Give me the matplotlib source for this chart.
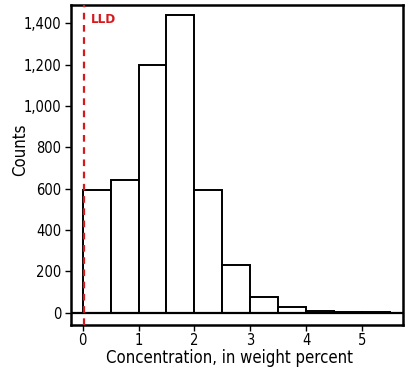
import numpy as np
import matplotlib.pyplot as plt

# Histogram bins (weight percent) and counts
bin_edges = [0, 0.5, 1, 1.5, 2, 2.5, 3, 3.5, 4, 4.5, 5, 5.5]
counts = [593, 642, 1198, 1440, 595, 231, 76, 27, 8, 3, 2]
lld = 0.02

x_ticks = [0, 1, 2, 3, 4, 5]
y_ticks = [0, 200, 400, 600, 800, 1000, 1200, 1400]

plt.rcParams['font.family'] = ['DejaVu Sans']
plt.rcParams['font.stretch'] = 'condensed'

fig = plt.figure(figsize=(4.17, 3.75), dpi=100)
ax = fig.add_axes([0.170, 0.133, 0.796, 0.854])

lefts = np.array(bin_edges[:-1])
widths = np.diff(bin_edges)
ax.bar(lefts, counts, width=widths, align='edge', facecolor='white',
       edgecolor='black', linewidth=1.4, zorder=2)

ax.axhline(0, color='black', linewidth=1.6, zorder=3)
ax.axvline(lld, color='#d7191c', linestyle=(0, (3, 2.5)), linewidth=1.6, zorder=4)
ax.text(0.15, 1420, 'LLD', color='#d7191c', fontweight='bold', fontsize=9.5,
        va='center', ha='left')

ax.set_xlim(-0.21, 5.73)
ax.set_ylim(-60, 1490)
ax.set_xticks(x_ticks)
ax.set_yticks(y_ticks)
ax.set_yticklabels([f'{v:,}' for v in y_ticks])
ax.tick_params(direction='out', length=4, width=1, labelsize=10.5)
ax.tick_params(axis='x', pad=2)
ax.tick_params(axis='y', pad=3)
for s in ax.spines.values():
    s.set_linewidth(1.8)

ax.set_xlabel('Concentration, in weight percent', fontsize=12)
ax.set_ylabel('Counts', fontsize=12)
ax.xaxis.set_label_coords(0.479, -0.075)
ax.yaxis.set_label_coords(-0.127, 0.547)

fig.savefig('out.png', dpi=100)
